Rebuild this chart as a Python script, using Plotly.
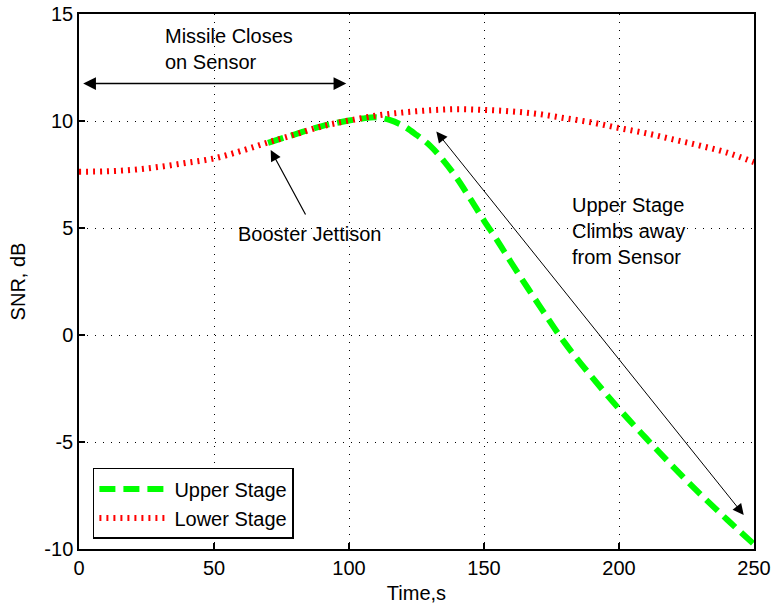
import plotly.graph_objects as go

# ---- data ----
lower_t = [0, 10, 20, 30, 40, 50, 60, 70, 80, 90, 100, 110, 120, 130, 140, 150,
           160, 170, 180, 190, 200, 210, 220, 230, 240, 250]
lower_snr = [7.63, 7.65, 7.72, 7.86, 8.05, 8.25, 8.6, 9.0, 9.37, 9.75, 10.02, 10.25,
             10.4, 10.5, 10.55, 10.52, 10.45, 10.33, 10.13, 9.93, 9.67, 9.43, 9.14,
             8.85, 8.52, 8.08]

upper_t = [70, 80, 90, 100, 105, 110, 115, 120, 125, 130, 135, 140, 145, 150, 155,
           160, 170, 180, 190, 200, 210, 220, 230, 240, 250]
upper_snr = [8.98, 9.38, 9.76, 10.02, 10.12, 10.17, 10.05, 9.78, 9.35, 8.85, 8.15,
             7.32, 6.35, 5.35, 4.4, 3.4, 1.47, -0.38, -1.97, -3.45, -4.82, -6.15,
             -7.42, -8.62, -9.78]

x_ticks = [0, 50, 100, 150, 200, 250]
x_tick_labels = ["0", "50", "100", "150", "200", "250"]
y_ticks = [-10, -5, 0, 5, 10, 15]
y_tick_labels = ["-10", "-5", "0", "5", "10", "15"]

FONT = "Liberation Sans, Arial, sans-serif"
FS = 20

fig = go.Figure()
fig.add_trace(go.Scatter(
    x=upper_t, y=upper_snr, mode="lines", name="Upper Stage",
    line=dict(color="#00ff00", width=6, dash="16px,8px", shape="spline"),
))
fig.add_trace(go.Scatter(
    x=lower_t, y=lower_snr, mode="lines", name="Lower Stage",
    line=dict(color="#ff0000", width=6, dash="2px,5px", shape="spline"),
))

axis_common = dict(
    showline=True, mirror=True, linecolor="black", linewidth=1.5,
    ticks="inside", ticklen=6, tickcolor="black", tickwidth=1.5,
    showgrid=True, gridcolor="black", gridwidth=1, griddash="1px,7px",
    zeroline=False, automargin=False, ticklabeloverflow="allow",
    tickfont=dict(family=FONT, size=FS, color="black"),
)

fig.update_xaxes(range=[0, 250], tickvals=x_ticks, ticktext=x_tick_labels,
                 title=dict(text="Time,s", font=dict(family=FONT, size=FS, color="black"), standoff=8),
                 **axis_common)
fig.update_yaxes(range=[-10, 15], tickvals=y_ticks, ticktext=y_tick_labels,
                 title=dict(text="SNR, dB", font=dict(family=FONT, size=FS, color="black"), standoff=13),
                 **axis_common)

ann_font = dict(family=FONT, size=FS, color="black")
annotations = [
    # double arrow: Missile closes on sensor
    dict(x=99, y=11.75, ax=1, ay=11.75, xref="x", yref="y", axref="x", ayref="y",
         showarrow=True, arrowhead=2, startarrowhead=2, arrowside="end+start",
         arrowsize=1.7, startarrowsize=1.7, arrowwidth=1.5, arrowcolor="black", text=""),
    dict(x=31, y=13.36, xref="x", yref="y", text="Missile Closes<br>on Sensor",
         showarrow=False, xanchor="left", yanchor="middle", align="left", font=ann_font),
    # booster jettison arrow
    dict(x=71.0, y=8.64, ax=84.2, ay=5.56, xref="x", yref="y", axref="x", ayref="y",
         showarrow=True, arrowhead=2, arrowsize=1.8, arrowwidth=1.2, arrowcolor="black", text=""),
    dict(x=85.2, y=4.72, xref="x", yref="y", text="Booster Jettison",
         showarrow=False, xanchor="center", yanchor="middle", font=ann_font),
    # upper stage climbs away arrow
    dict(x=246.2, y=-8.41, ax=131.9, ay=9.58, xref="x", yref="y", axref="x", ayref="y",
         showarrow=True, arrowhead=2, startarrowhead=2, arrowside="end+start",
         arrowsize=2.2, startarrowsize=2.2, arrowwidth=1, arrowcolor="black", text=""),
    dict(x=181.7, y=4.88, xref="x", yref="y", text="Upper Stage<br>Climbs away<br>from Sensor",
         showarrow=False, xanchor="left", yanchor="middle", align="left", font=ann_font),
]

fig.update_layout(
    width=772, height=607,
    margin=dict(l=79, r=18, t=14, b=58),
    paper_bgcolor="white", plot_bgcolor="white",
    font=dict(family=FONT, size=FS, color="black"),
    annotations=annotations,
    showlegend=True,
    legend=dict(x=0.0206, y=0.0187, xanchor="left", yanchor="bottom",
                bgcolor="white", bordercolor="black", borderwidth=1.5,
                font=dict(family=FONT, size=FS, color="black"),
                itemwidth=70, tracegroupgap=0),
)

fig.write_html("out.html", config={"displayModeBar": False},
               post_script="document.body.style.margin='0';")
